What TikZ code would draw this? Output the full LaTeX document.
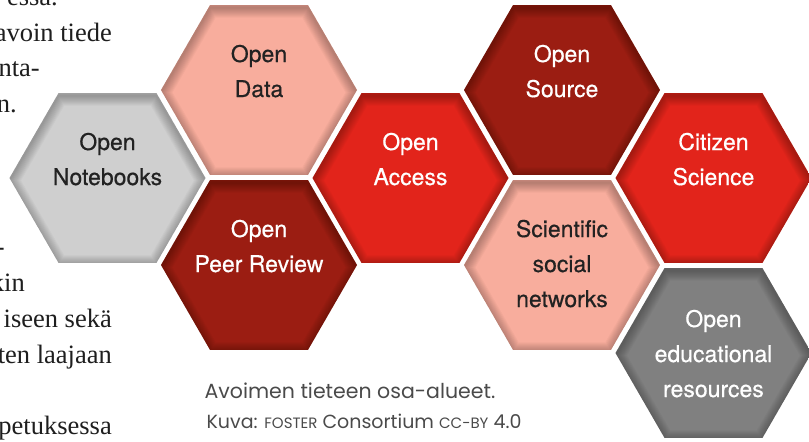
\documentclass[tikz,border=0pt]{standalone}
\usepackage{fontspec}
\setmainfont{Liberation Serif}
\newfontfamily\hexfont[FakeBold=0.5]{TeX Gyre Heros}
\newfontfamily\capfont{Poppins}
\definecolor{salmon}{HTML}{F8AD9D}
\definecolor{darkred}{HTML}{9B1D12}
\definecolor{brightred}{HTML}{E2241B}
\definecolor{lightgray}{HTML}{CFCFCF}
\definecolor{midgray}{HTML}{808080}
\definecolor{darktext}{HTML}{222222}
\definecolor{bodyc}{HTML}{1E1E1E}
\definecolor{capc}{HTML}{4A4A4A}
\newcommand\hexR{98}
\newcommand\hexpath[2]{(#1,#2) +(0:\hexR) -- +(60:\hexR) -- +(120:\hexR) -- +(180:\hexR) -- +(240:\hexR) -- +(300:\hexR) -- cycle}
% name, cx, cy, fill, text colour, text, text y-offset
\newcommand\hexcell[7]{%
  \begin{scope}
    \clip \hexpath{#2}{#3};
    \fill[#4] (#2,#3) circle (110);
    \foreach \w in {2,4,...,20}{
      \draw[black, opacity=0.028, line width=\w pt, shift={(0,2.5)}] \hexpath{#2}{#3};
    }
  \end{scope}
  \node[hextext, text=#5] (#1) at (#2,{#3+#7}) {#6};
}
\begin{document}
\begin{tikzpicture}[x=1pt,y=-1pt,
  hextext/.style={font=\hexfont\fontsize{23}{35}\selectfont, align=center, inner sep=0pt},
  bodytext/.style={font=\fontsize{26.5}{35}\selectfont, text=bodyc, anchor=base east, inner sep=0pt},
  captext/.style={font=\capfont\fontsize{19}{30}\selectfont, text=capc, anchor=base, inner sep=0pt}]
\useasboundingbox (0,0) rectangle (809,442);
\clip (0,0) rectangle (809,442);
% body text behind the figure
\node[bodytext] (b1) at (58,5) {essa.};
\node[bodytext] (b2) at (112,41) {avoin tiede};
\node[bodytext] (b3) at (40,76) {nta-};
\node[bodytext] (b4) at (17,112) {n.};
\node[bodytext] (b5) at (5,255) {-};
\node[bodytext] (b6) at (25,291) {kin};
\node[bodytext] (b7) at (112,327) {iseen sekä};
\node[bodytext] (b8) at (112,363) {ten laajaan};
\node[bodytext] (b9) at (112,434) {petuksessa};
% hexagons
\hexcell{notebooks}{107.5}{178}{lightgray}{darktext}{\strut Open\\Notebooks\strut}{-17.5}
\hexcell{data}{259}{90}{salmon}{darktext}{\strut Open\\Data\strut}{-17.5}
\hexcell{peer}{259}{265}{darkred}{white}{\strut Open\\Peer Review\strut}{-17.5}
\hexcell{access}{410.5}{178}{brightred}{white}{\strut Open\\Access\strut}{-17.5}
\hexcell{source}{562}{90}{darkred}{white}{\strut Open\\Source\strut}{-17.5}
\hexcell{social}{562}{265}{salmon}{darktext}{\strut Scientific\\social\\networks\strut}{0}
\hexcell{citizen}{713.5}{178}{brightred}{white}{\strut Citizen\\Science\strut}{-17.5}
\hexcell{oer}{713.5}{353}{midgray}{white}{\strut Open\\educational\\resources\strut}{2}
% caption
\node[captext, font=\capfont\fontsize{20.5}{30}\selectfont] (cap1) at (350,398) {Avoimen tieteen osa-alueet.};
\node[captext] (cap2) at (364,428) {Kuva: {\fontsize{15}{30}\selectfont FOSTER} Consortium {\fontsize{15}{30}\selectfont CC-BY} 4.0};
\end{tikzpicture}
\end{document}
